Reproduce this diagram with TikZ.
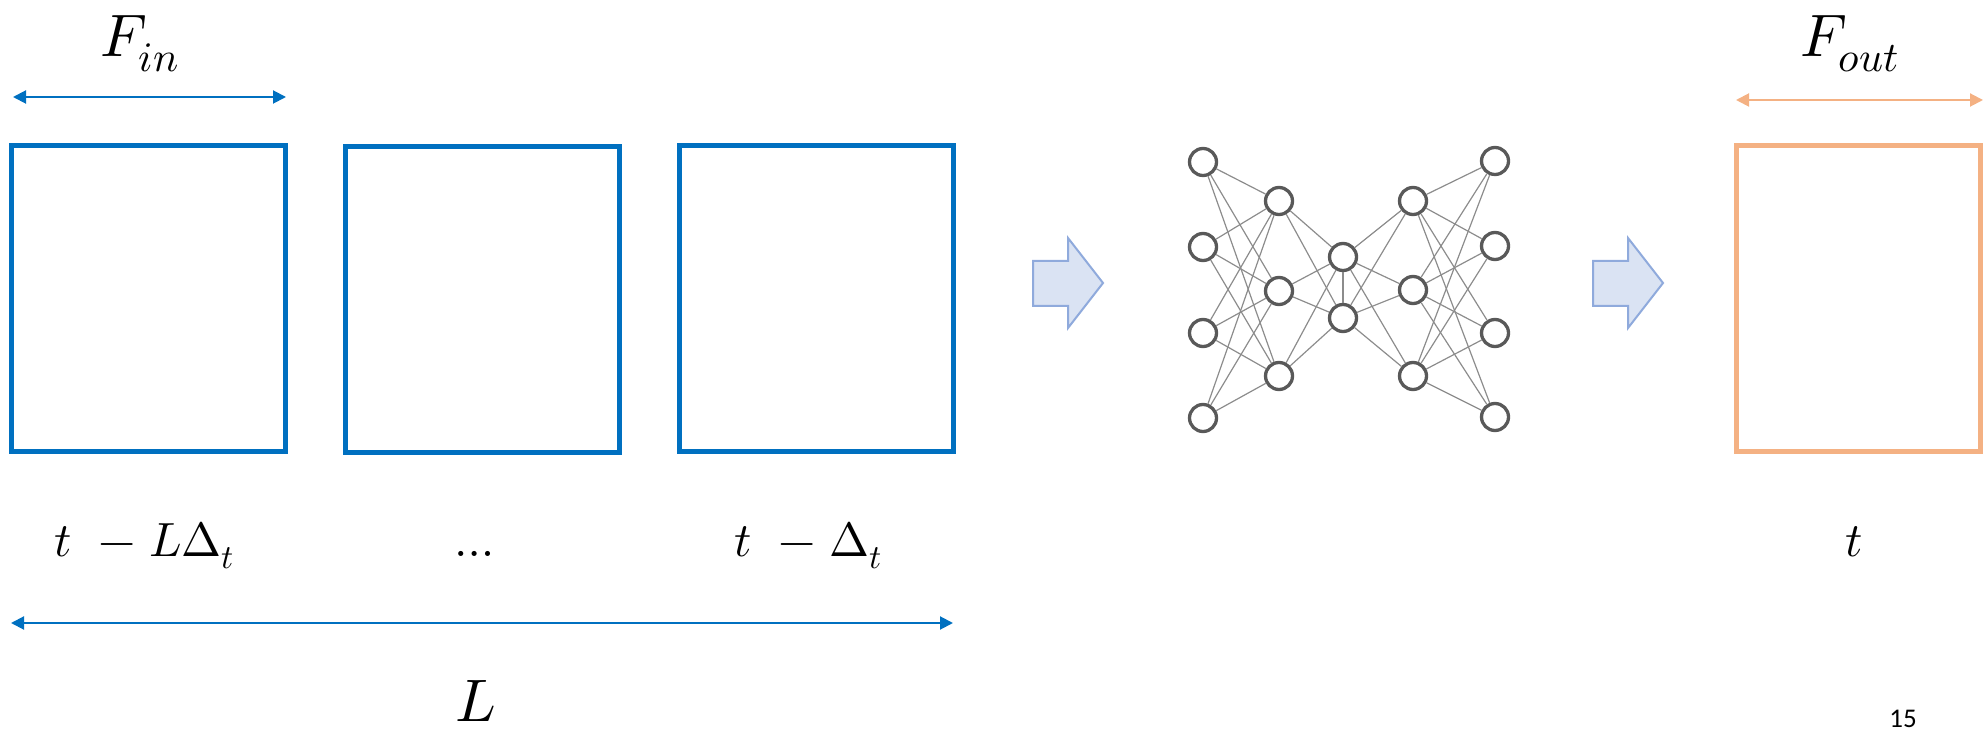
\documentclass[tikz,border=0pt]{standalone}
\usepackage{fontspec}
\usepackage{unicode-math}
\setmathfont{Latin Modern Math}
\newfontfamily\calib{Carlito}
\usetikzlibrary{arrows.meta}
\definecolor{myblue}{HTML}{0070C0}
\definecolor{myorange}{HTML}{F4B183}
\definecolor{nngray}{HTML}{595959}
\definecolor{edgegray}{HTML}{8C8C8C}
\definecolor{arrfill}{HTML}{DAE3F3}
\definecolor{arrdraw}{HTML}{8FAADC}
\newcommand{\gapA}{\hskip 13.5pt}
\newcommand{\gapB}{\hskip 6.5pt}
\begin{document}
\begin{tikzpicture}[x=0.5pt,y=-0.5pt,
  inbox/.style={draw=myblue,line width=2.5pt,inner sep=0pt,minimum width=137pt,minimum height=153pt},
  outbox/.style={draw=myorange,line width=2.5pt,inner sep=0pt,minimum width=122pt,minimum height=153pt},
  dimarrow/.style={line width=1pt,{Triangle[length=6.5pt,width=6.5pt]}-{Triangle[length=6.5pt,width=6.5pt]}},
  biglabel/.style={inner sep=0pt,font=\fontsize{30}{36}\selectfont},
  timelabel/.style={inner sep=0pt,font=\fontsize{24}{29}\selectfont},
  neuron/.style={circle,draw=nngray,line width=1.65pt,fill=white,minimum size=13.5pt,inner sep=0pt},
  synapse/.style={draw=edgegray,line width=0.6pt},
  blockarrow/.style={draw=arrdraw,fill=arrfill,line width=1pt,line join=miter}]
\useasboundingbox (0,0) rectangle (1986,731);

% frames
\node[inbox] (b1) at (148.5,298.5) {};
\node[inbox] (b2) at (482,299.5) {};
\node[inbox] (b3) at (816,298.5) {};
\node[outbox] (bo) at (1858,298.5) {};

% dimension arrows
\coordinate (fin1) at (13,97);
\coordinate (fin2) at (286,97);
\draw[dimarrow,myblue] (fin1) -- (fin2);
\coordinate (fo1) at (1736,100);
\coordinate (fo2) at (1983,100);
\draw[dimarrow,myorange] (fo1) -- (fo2);
\coordinate (la1) at (11,623);
\coordinate (la2) at (953,623);
\draw[dimarrow,myblue] (la1) -- (la2);

% labels
\node[biglabel,anchor=base] (fin) at (140,57) {$F_{in}$};
\node[biglabel,anchor=base] (fout) at (1850,57) {$F_{out}$};
\node[timelabel,anchor=base west] (t1) at (54,557) {$t\gapA{-}\gapB L\Delta_t$};
\node[timelabel,anchor=base] (dots) at (479,557) {$\dots$};
\node[timelabel,anchor=base west] (t2) at (734,557) {$t\gapA{-}\gapB\Delta_t$};
\node[timelabel,anchor=base] (t3) at (1854,557) {$t$};
\node[biglabel,anchor=base] (L) at (476,721) {$L$};
\node[inner sep=0pt,anchor=base,font=\calib\fontsize{13.5}{16}\selectfont] (pg) at (1903,727) {15};

% block arrows
\draw[blockarrow] (1033,261) -- (1068,261) -- (1068,238) -- (1103,283) -- (1068,328) -- (1068,306) -- (1033,306) -- cycle;
\draw[blockarrow] (1593,261) -- (1628,261) -- (1628,238) -- (1663,283) -- (1628,328) -- (1628,306) -- (1593,306) -- cycle;

% neural network
\foreach \i/\y in {1/162,2/247,3/333,4/418} \node[neuron] (a\i) at (1203,\y) {};
\foreach \i/\y in {1/201,2/291,3/376} \node[neuron] (b\i) at (1279,\y) {};
\foreach \i/\y in {1/257,2/318} \node[neuron] (c\i) at (1343,\y) {};
\foreach \i/\y in {1/201,2/290,3/376} \node[neuron] (d\i) at (1413,\y) {};
\foreach \i/\y in {1/161,2/246,3/333,4/417} \node[neuron] (e\i) at (1495,\y) {};

\foreach \i in {1,...,4} \foreach \j in {1,2,3} \draw[synapse] (a\i) -- (b\j);
\foreach \i in {1,2,3} \foreach \j in {1,2} \draw[synapse] (b\i) -- (c\j);
\draw[synapse] (c1) -- (c2);
\foreach \i in {1,2} \foreach \j in {1,2,3} \draw[synapse] (c\i) -- (d\j);
\foreach \i in {1,2,3} \foreach \j in {1,...,4} \draw[synapse] (d\i) -- (e\j);
\end{tikzpicture}
\end{document}
